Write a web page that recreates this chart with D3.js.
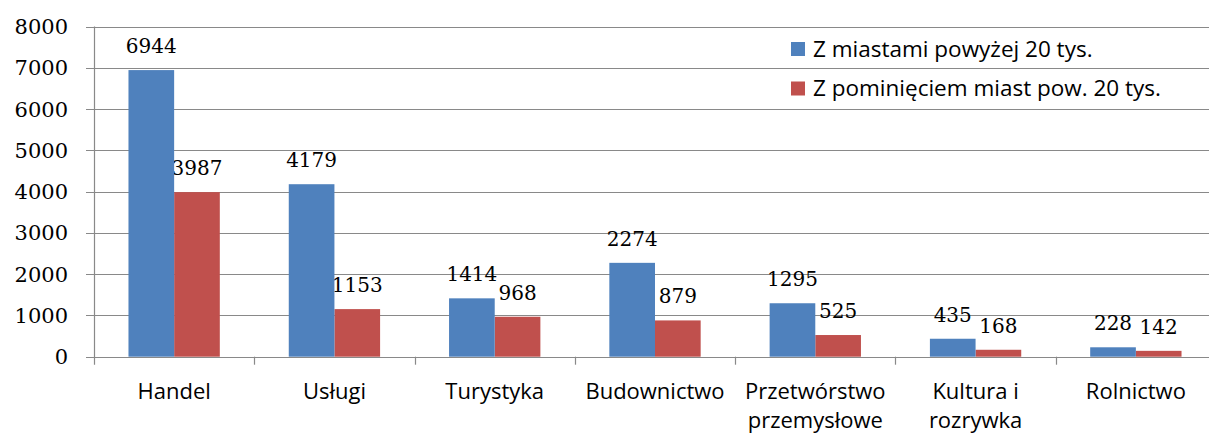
<!DOCTYPE html>
<html>
<head>
<meta charset="utf-8">
<script src="https://cdn.jsdelivr.net/npm/d3@7"></script>
<style>
  html, body { margin: 0; padding: 0; background: #fff; }
  svg { display: block; }
</style>
</head>
<body>
<svg id="chart" width="1209" height="435"></svg>
<script>
const categories = [["Handel"], ["Usługi"], ["Turystyka"], ["Budownictwo"], ["Przetwórstwo", "przemysłowe"], ["Kultura i", "rozrywka"], ["Rolnictwo"]];
const seriesNames = ["Z miastami powyżej 20 tys.", "Z pominięciem miast pow. 20 tys."];
const seriesA = [6944, 4179, 1414, 2274, 1295, 435, 228];
const seriesB = [3987, 1153, 968, 879, 525, 168, 142];
const yTicks = [0, 1000, 2000, 3000, 4000, 5000, 6000, 7000, 8000];
const colors = ["#4F81BD", "#C0504D"];

const svg = d3.select("#chart");
const plotLeft = 94, plotRight = 1216, plotTop = 26.5, plotBottom = 356.7;
const catKeys = categories.map((c, i) => i);

const x = d3.scaleBand().domain(catKeys).range([plotLeft, plotRight]).paddingInner(0).paddingOuter(0);
const y = d3.scaleLinear().domain([0, 8000]).range([plotBottom, plotTop]);
const x1 = d3.scaleBand().domain([0, 1]).range([0, x.bandwidth()]).paddingInner(0).paddingOuter(0.755);

// gridlines
svg.append("g").selectAll("line").data(yTicks).join("line")
  .attr("x1", plotLeft - 8).attr("x2", 1209)
  .attr("y1", d => Math.round(y(d)) + 0.5).attr("y2", d => Math.round(y(d)) + 0.5)
  .attr("stroke", "#898989").attr("stroke-width", 1.2);

// y axis line
svg.append("line").attr("x1", plotLeft + 0.5).attr("x2", plotLeft + 0.5)
  .attr("y1", plotTop).attr("y2", plotBottom + 8)
  .attr("stroke", "#898989").attr("stroke-width", 1.2);

// category ticks
svg.append("g").selectAll("line").data(catKeys.slice(1)).join("line")
  .attr("x1", d => Math.round(x(d)) + 0.5).attr("x2", d => Math.round(x(d)) + 0.5)
  .attr("y1", plotBottom).attr("y2", plotBottom + 8)
  .attr("stroke", "#898989").attr("stroke-width", 1.2);

// y tick labels
svg.append("g").selectAll("text").data(yTicks).join("text")
  .attr("x", 68).attr("y", d => y(d) + 7.5)
  .attr("text-anchor", "end")
  .attr("font-family", "DejaVu Serif").attr("font-size", 21)
  .attr("fill", "#000")
  .text(d => d);

function drawSeries(vals, si) {
  const g = svg.append("g");
  g.selectAll("rect").data(vals).join("rect")
    .attr("x", (d, i) => x(i) + x1(si))
    .attr("width", x1.bandwidth())
    .attr("y", d => y(d))
    .attr("height", d => y(0) - y(d))
    .attr("fill", colors[si]);
  g.selectAll("text").data(vals).join("text")
    .attr("x", (d, i) => x(i) + x1(si) + x1.bandwidth() / 2)
    .attr("y", d => y(d) - 17)
    .attr("text-anchor", "middle")
    .attr("font-family", "DejaVu Serif").attr("font-size", 20)
    .attr("fill", "#000")
    .text(d => d);
}
drawSeries(seriesB, 1);
drawSeries(seriesA, 0);

// category labels
const cl = svg.append("g").selectAll("text").data(categories).join("text")
  .attr("x", (d, i) => x(i) + x.bandwidth() / 2)
  .attr("y", 399)
  .attr("text-anchor", "middle")
  .attr("font-family", "Open Sans").attr("font-size", 22)
  .attr("fill", "#000");
cl.selectAll("tspan").data(d => d).join("tspan")
  .attr("x", function() { return d3.select(this.parentNode).attr("x"); })
  .attr("dy", (d, i) => i === 0 ? 0 : 29)
  .text(d => d);

// legend
const lg = svg.append("g").selectAll("g").data(seriesNames).join("g")
  .attr("transform", (d, i) => `translate(791, ${42 + i * 39.5})`);
lg.append("rect").attr("width", 14).attr("height", 14).attr("fill", (d, i) => colors[i]);
lg.append("text").attr("x", 22).attr("y", 14.5)
  .attr("font-family", "Open Sans").attr("font-size", 22.5)
  .attr("fill", "#000").text(d => d);
</script>
</body>
</html>
